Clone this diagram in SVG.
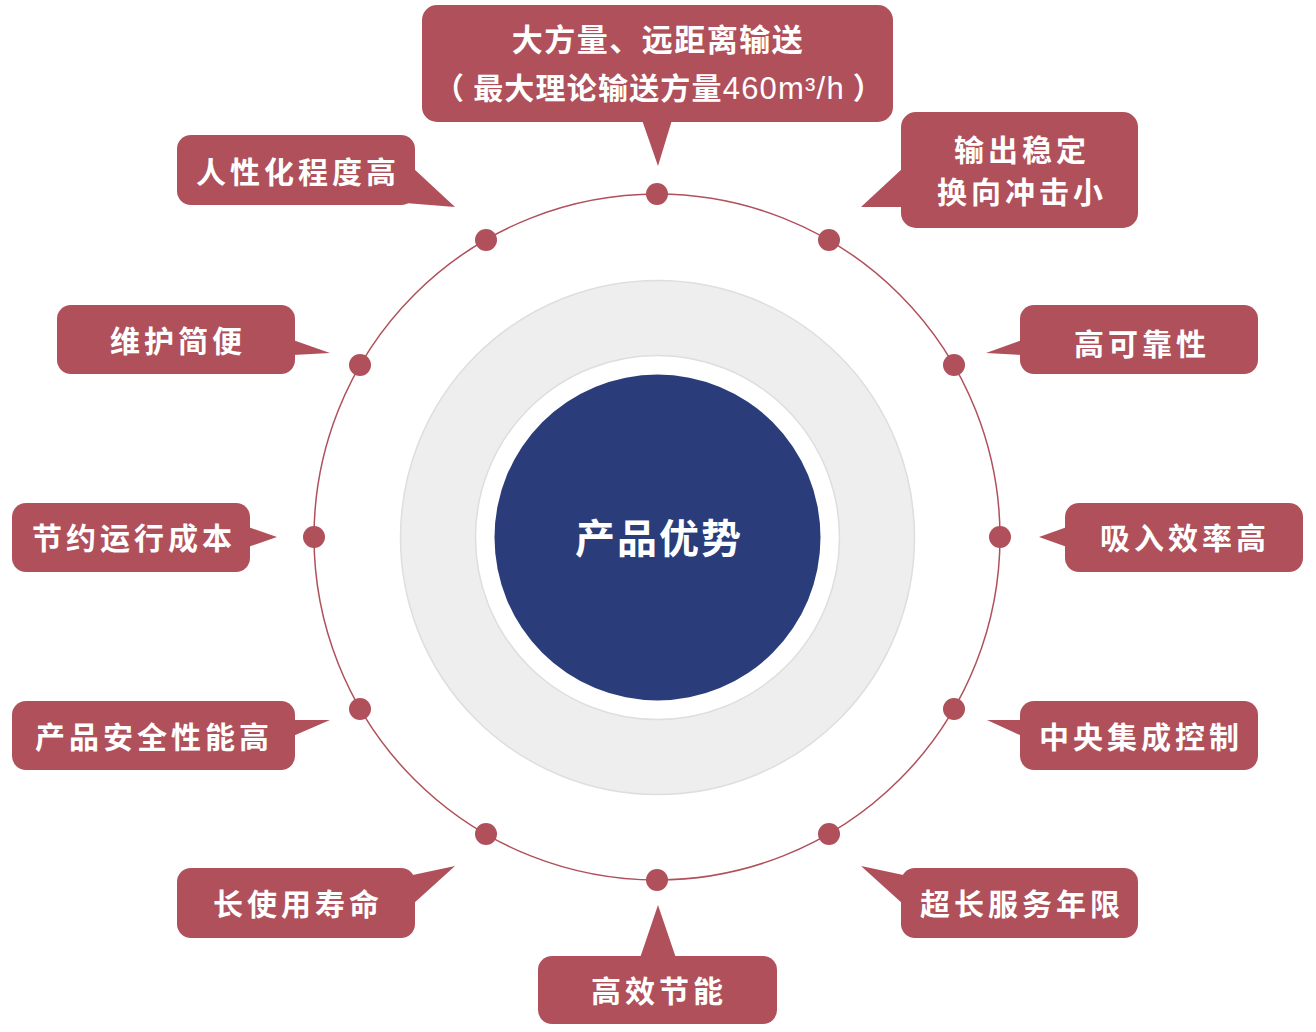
<svg xmlns="http://www.w3.org/2000/svg" width="1316" height="1032" viewBox="0 0 1316 1032">
<style>
.box{fill:#b0505b;}
.lbl{font-family:"Noto Sans CJK SC","Liberation Sans",sans-serif;font-size:30px;font-weight:bold;fill:#ffffff;text-anchor:middle;letter-spacing:4px;}
.dot{fill:#b0505b;}
.ring{fill:none;stroke:#b0505b;stroke-width:1.5;}
</style>
<rect width="1316" height="1032" fill="#ffffff"/>
<g id="core">
<circle cx="657.5" cy="537.5" r="257" fill="#eeeeee" stroke="#dedede" stroke-width="1.5"/>
<circle cx="657.5" cy="537.5" r="182" fill="#ffffff" stroke="#dedede" stroke-width="1.5"/>
<circle cx="657.5" cy="537.5" r="163" fill="#2a3c7a"/>
<text x="659" y="553" font-family="Noto Sans CJK SC, Liberation Sans, sans-serif" font-size="40" font-weight="bold" fill="#ffffff" text-anchor="middle" letter-spacing="2">产品优势</text>
</g>
<g id="connectors">
<circle class="ring" cx="657" cy="537" r="343"/>
<circle class="dot" cx="657" cy="194" r="11"/>
<circle class="dot" cx="829" cy="240" r="11"/>
<circle class="dot" cx="954" cy="365" r="11"/>
<circle class="dot" cx="1000" cy="537" r="11"/>
<circle class="dot" cx="954" cy="709" r="11"/>
<circle class="dot" cx="829" cy="834" r="11"/>
<circle class="dot" cx="657" cy="880" r="11"/>
<circle class="dot" cx="486" cy="834" r="11"/>
<circle class="dot" cx="360" cy="709" r="11"/>
<circle class="dot" cx="314" cy="537" r="11"/>
<circle class="dot" cx="360" cy="365" r="11"/>
<circle class="dot" cx="486" cy="240" r="11"/>
</g>
<g id="n-top">
<rect class="box" x="422" y="5" width="471" height="117" rx="15"/>
<polygon class="box" points="642,120 672,120 658,166"/>
<text class="lbl" x="658" y="51" style="font-size:31px;letter-spacing:1.5px">大方量、远距离输送</text>
<text class="lbl" x="659" y="99" style="letter-spacing:1.2px">（ 最大理论输送方量<tspan font-family="Liberation Sans, Arial, sans-serif" font-weight="normal" font-size="31">460m³/h</tspan> ）</text>
</g>
<g id="n-stable">
<rect class="box" x="901" y="112" width="237" height="116" rx="15"/>
<polygon class="box" points="903,168 861,207 905,207"/>
<text class="lbl" x="1022" y="161">输出稳定</text>
<text class="lbl" x="1022" y="203">换向冲击小</text>
</g>
<g id="n-human">
<rect class="box" x="177" y="135" width="238" height="70" rx="14"/>
<polygon class="box" points="413,168 455,207 405,203"/>
<text class="lbl" x="298" y="183">人性化程度高</text>
</g>
<g id="n-maint">
<rect class="box" x="57" y="305" width="238" height="69" rx="14"/>
<polygon class="box" points="293,340 330,353 293,355"/>
<text class="lbl" x="178" y="352">维护简便</text>
</g>
<g id="n-reliab">
<rect class="box" x="1020" y="305" width="238" height="69" rx="14"/>
<polygon class="box" points="1022,340 986,353 1022,355"/>
<text class="lbl" x="1142" y="355">高可靠性</text>
</g>
<g id="n-cost">
<rect class="box" x="12" y="503" width="238" height="69" rx="14"/>
<polygon class="box" points="248,527 277,537 248,547"/>
<text class="lbl" x="134" y="549">节约运行成本</text>
</g>
<g id="n-suction">
<rect class="box" x="1065" y="503" width="238" height="69" rx="14"/>
<polygon class="box" points="1067,527 1039,537 1067,547"/>
<text class="lbl" x="1185" y="549">吸入效率高</text>
</g>
<g id="n-safety">
<rect class="box" x="12" y="701" width="283" height="69" rx="14"/>
<polygon class="box" points="293,720 330,720 293,736"/>
<text class="lbl" x="154" y="748">产品安全性能高</text>
</g>
<g id="n-central">
<rect class="box" x="1020" y="701" width="238" height="69" rx="14"/>
<polygon class="box" points="1022,720 987,720 1022,736"/>
<text class="lbl" x="1141" y="748">中央集成控制</text>
</g>
<g id="n-life">
<rect class="box" x="177" y="868" width="238" height="70" rx="14"/>
<polygon class="box" points="408,876 455,866 413,904"/>
<text class="lbl" x="298" y="915">长使用寿命</text>
</g>
<g id="n-service">
<rect class="box" x="901" y="868" width="237" height="70" rx="14"/>
<polygon class="box" points="908,876 861,866 903,904"/>
<text class="lbl" x="1022" y="915">超长服务年限</text>
</g>
<g id="n-energy">
<rect class="box" x="538" y="956" width="239" height="68" rx="14"/>
<polygon class="box" points="640,958 676,958 658,905"/>
<text class="lbl" x="659" y="1002">高效节能</text>
</g>
</svg>
